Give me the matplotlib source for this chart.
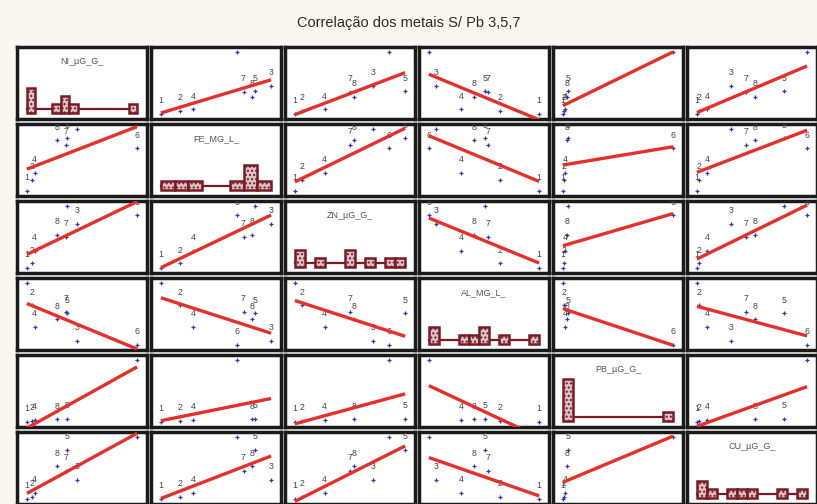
import numpy as np
import matplotlib
matplotlib.use("Agg")
import matplotlib.pyplot as plt
from matplotlib.patches import Rectangle

plt.rcParams['font.family'] = ['Liberation Sans', 'DejaVu Sans']

# ---------------- data ----------------
samples = ["1", "2", "3", "4", "5", "6", "7", "8"]
var_names = ["NI_µG_G_", "FE_MG_L_", "ZN_µG_G_", "AL_MG_L_", "PB_µG_G_", "CU_µG_G_"]

ni = [4.5, 6.5, 24.0, 7.5, 20.0, 47.0, 19.5, 16.0]
fe = [1.0, 2.2, 7.8, 3.0, 6.8, 5.7, 6.1, 6.6]
zn = [17, 28, 136, 62, 184, 160, 100, 106]
al = [17.6, 12.0, 3.0, 6.6, 10.0, 2.0, 10.4, 8.4]
pb = [20, 24, np.nan, 28, 36, 380, np.nan, 32]   # Pb of samples 3 and 7 not used
cu = [4.8, 6.0, 21.0, 9.6, 46.2, 57.0, 28.2, 32.4]

title = "Correlação dos metais S/ Pb 3,5,7"
hist_bins = [13, 8, 11, 11, 11, 11]

# ---------------- figure ----------------
W, H = 817, 504
fig = plt.figure(figsize=(W / 100, H / 100), dpi=100, facecolor='#f9f7f0')

data = [np.array(v, dtype=float) for v in (ni, fe, zn, al, pb, cu)]
n = len(data)

def lims(v):
    v = v[~np.isnan(v)]
    lo, hi = v.min(), v.max()
    pad = 0.09 * (hi - lo)
    return lo - pad, hi + pad

limits = [lims(v) for v in data]

x0, xpitch, pw = 17, 134, 130
y0, ypitch, ph = 47, 77, 72

fig.text(0.5, 1 - 23 / H, title, ha='center', va='center', fontsize=10.5, color='#2a2a2a')

red = '#e5302a'
blue = '#3434b4'
hist_edge = '#7a1a24'

for i in range(n):          # row -> y variable
    for j in range(n):      # col -> x variable
        left = (x0 + xpitch * j) / W
        bottom = 1 - (y0 + ypitch * i + ph) / H
        ax = fig.add_axes([left, bottom, pw / W, ph / H])
        ax.set_facecolor('white')
        for s in ax.spines.values():
            s.set_linewidth(2.5)
            s.set_color('#1a1a1a')
        ax.set_xticks([])
        ax.set_yticks([])
        xv = data[j]
        ax.set_xlim(*limits[j])
        if i == j:
            v = xv[~np.isnan(xv)]
            lo, hi = v.min(), v.max()
            counts, edges = np.histogram(v, bins=hist_bins[j], range=(lo, hi))
            ax.set_ylim(-0.75, 7.9)
            ax.plot([lo, hi], [0.45, 0.45], color=hist_edge, lw=1.6, zorder=2)
            for c, e0, e1 in zip(counts, edges[:-1], edges[1:]):
                if c > 0:
                    ax.add_patch(Rectangle((e0, 0), e1 - e0, c, facecolor='#d9c3c6',
                                           edgecolor=hist_edge, lw=1.8, hatch='....',
                                           zorder=3))
            ax.text(0.5, 0.8, var_names[j], transform=ax.transAxes, ha='center',
                    va='center', fontsize=6.5, color='#555555')
        else:
            yv = data[i]
            ax.set_ylim(*limits[i])
            ok = ~np.isnan(xv) & ~np.isnan(yv)
            xs, ys = xv[ok], yv[ok]
            labs = [samples[k] for k in range(len(samples)) if ok[k]]
            ax.plot(xs, ys, linestyle='none', marker='+', markersize=3.0,
                    mew=0.9, color=blue, zorder=2)
            for xx, yy, lb in zip(xs, ys, labs):
                ax.annotate(lb, (xx, yy), xytext=(0, 9.5), textcoords='offset points',
                            ha='center', va='center', fontsize=6.3, color='#444444',
                            annotation_clip=False, clip_on=True, zorder=3)
            b, a = np.polyfit(xs, ys, 1)
            xa = xv[~np.isnan(xv)]
            xl = np.array([xa.min(), xa.max()])
            ax.plot(xl, a + b * xl, color=red, lw=2.4, zorder=4, solid_capstyle='butt')

fig.savefig('out.png', dpi=100, facecolor=fig.get_facecolor())
